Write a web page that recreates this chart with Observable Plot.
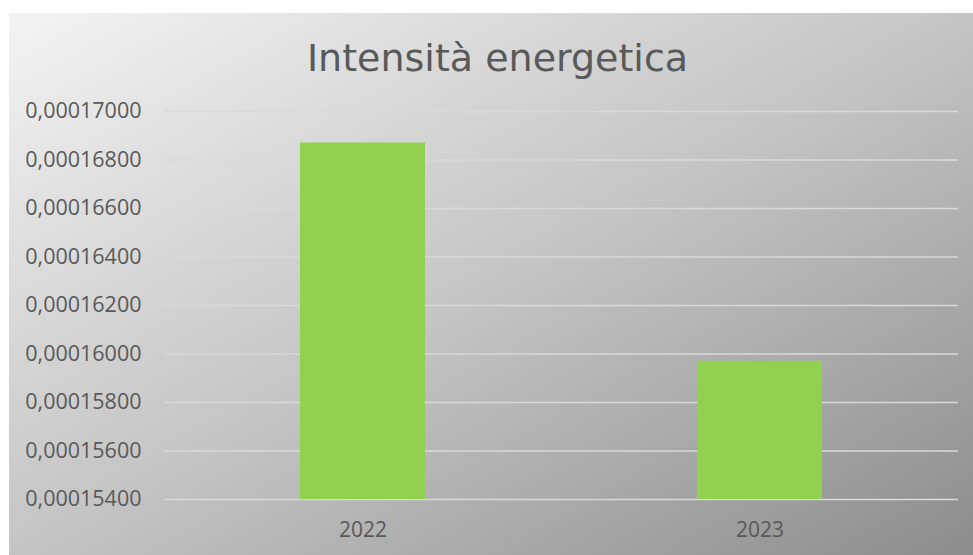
<!DOCTYPE html>
<html>
<head>
<meta charset="utf-8">
<script src="https://cdn.jsdelivr.net/npm/d3@7"></script>
<script src="https://cdn.jsdelivr.net/npm/@observablehq/plot@0.6"></script>
<style>
  html, body { margin: 0; padding: 0; background: #ffffff; }
  #frame {
    position: absolute; left: 9px; top: 13px; width: 964px; height: 542px;
    background: linear-gradient(to bottom right, #f3f3f3 0%, #c4c4c4 50%, #8c8c8c 100%);
    overflow: hidden;
  }
  #title {
    padding-top: 15px; height: 60px; padding-bottom: 5px; padding-left: 13px;
    line-height: 60px; text-align: center;
    font-family: "DejaVu Sans", Verdana, sans-serif; font-size: 38px; color: #595959;
  }
  #chart svg { display: block; background: transparent; }
</style>
</head>
<body>
<div id="frame">
  <div id="title">Intensità energetica</div>
  <div id="chart"></div>
</div>
<script>
const years = ["2022", "2023"];
const values = [0.0001687, 0.0001597];
const yMin = 0.000154;
const yMax = 0.00017;
const yTicks = [0.000154, 0.000156, 0.000158, 0.00016, 0.000162, 0.000164, 0.000166, 0.000168, 0.00017];

const data = years.map((y, i) => ({year: y, v: values[i]}));
const fmt = d => d3.format(".8f")(d).replace(".", ",");

const chart = Plot.plot({
  width: 964,
  height: 462,
  marginTop: 18,
  marginBottom: 56,
  marginLeft: 155,
  marginRight: 15,
  style: {background: "transparent", fontFamily: "'Open Sans', sans-serif", color: "#595959", overflow: "visible"},
  x: {domain: years, paddingInner: 0.685, paddingOuter: 0.3425, label: null},
  y: {domain: [yMin, yMax], ticks: yTicks, label: null},
  marks: [
    Plot.gridY(yTicks, {stroke: "#d9d9d9", strokeOpacity: 1, strokeWidth: 1.5}),
    Plot.barY(data, {x: "year", y1: () => yMin, y2: "v", fill: "#92D050"}),
    Plot.axisY(yTicks, {tickSize: 0, tickPadding: 23, tickFormat: fmt, fontSize: 21.5, fill: "#595959", label: null}),
    Plot.axisX({tickSize: 0, tickPadding: 23, fontSize: 21, fill: "#595959", label: null})
  ]
});
document.getElementById("chart").appendChild(chart);
</script>
</body>
</html>
